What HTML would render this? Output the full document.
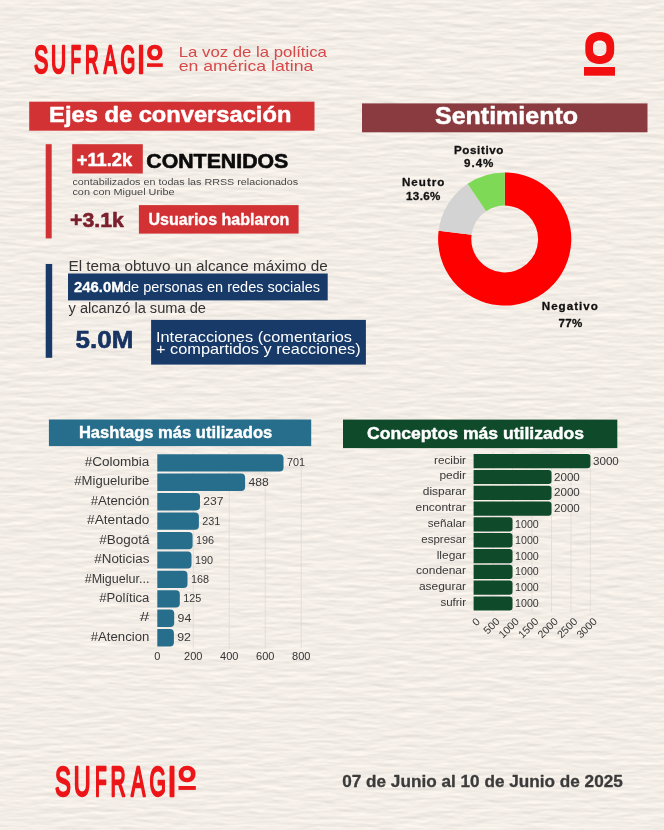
<!DOCTYPE html>
<html lang="es">
<head>
<meta charset="utf-8">
<title>Sufragio - Ejes de conversación</title>
<style>
html,body{margin:0;padding:0;background:#f3ede7;}
body{width:664px;height:830px;overflow:hidden;font-family:"Liberation Sans", sans-serif;}
#page{position:relative;width:664px;height:830px;background:#f3ede7;overflow:hidden;}
svg{position:absolute;left:0;top:0;display:block;will-change:transform;}
svg text{font-family:"Liberation Sans", sans-serif;}
</style>
</head>
<body>
<div id="page">
<svg width="664" height="830" viewBox="0 0 664 830">
<defs>
<filter id="paper" x="0" y="0" width="100%" height="100%" color-interpolation-filters="sRGB">
<feTurbulence type="fractalNoise" baseFrequency="0.035 0.19" numOctaves="3" seed="11" result="n"/>
<feDiffuseLighting in="n" lighting-color="#fff9f2" surfaceScale="0.24" diffuseConstant="1.1"><feDistantLight azimuth="90" elevation="60"/></feDiffuseLighting>
</filter>
</defs>
<rect width="664" height="830" fill="#efeae5" filter="url(#paper)"/>
<g class="logo"><text y="72.5" font-size="39.0" font-weight="400" fill="#ec1518" stroke="#ec1518" stroke-width="2.5" stroke-linejoin="round"><tspan x="34.05" textLength="14.30" lengthAdjust="spacingAndGlyphs">S</tspan><tspan x="51.09" textLength="15.13" lengthAdjust="spacingAndGlyphs">U</tspan><tspan x="70.59" textLength="10.49" lengthAdjust="spacingAndGlyphs">F</tspan><tspan x="84.95" textLength="13.68" lengthAdjust="spacingAndGlyphs">R</tspan><tspan x="103.65" textLength="12.90" lengthAdjust="spacingAndGlyphs">A</tspan><tspan x="120.56" textLength="14.77" lengthAdjust="spacingAndGlyphs">G</tspan><tspan x="137.13" textLength="7.65" lengthAdjust="spacingAndGlyphs">I</tspan><tspan x="147.62" y="58.95" font-size="19.2" stroke-width="2.7" textLength="14.56" lengthAdjust="spacingAndGlyphs">O</tspan></text>
<rect x="147.0" y="63.3" width="15.8" height="3.6" fill="#ec1518" />
</g>
<text x="178.7" y="56.8" font-size="15" font-weight="400" fill="#d6494a" text-anchor="start" textLength="148.2" lengthAdjust="spacingAndGlyphs" >La voz de la política</text>
<text x="178.7" y="71.3" font-size="15" font-weight="400" fill="#d6494a" text-anchor="start" textLength="134.7" lengthAdjust="spacingAndGlyphs" >en américa latina</text>
<g class="o-icon">
<path fill="#f10f0f" fill-rule="evenodd" d="M599.7 32 C608.5 32 614.2 37 614.2 45.5 L614.2 50.5 C614.2 59 608.5 64 599.7 64 C591 64 585.3 59 585.3 50.5 L585.3 45.5 C585.3 37 591 32 599.7 32 Z M599.7 40.5 C595.5 40.5 593 42.8 593 46.5 L593 50 C593 53.7 595.5 56 599.7 56 C603.9 56 606.4 53.7 606.4 50 L606.4 46.5 C606.4 42.8 603.9 40.5 599.7 40.5 Z"/>
<rect x="584.0" y="67.0" width="31.0" height="8.7" fill="#f10f0f" />
</g>
<rect x="29.2" y="101.7" width="285.3" height="29.0" fill="#d33235" />
<text x="49.1" y="122.0" font-size="22.5" font-weight="700" fill="#ffffff" text-anchor="start" textLength="242.3" lengthAdjust="spacingAndGlyphs"  stroke="#ffffff" stroke-width="0.5" stroke-linejoin="round">Ejes de conversación</text>
<rect x="362.0" y="103.4" width="285.5" height="28.9" fill="#8a3b3f" />
<text x="435.0" y="124.0" font-size="23" font-weight="700" fill="#ffffff" text-anchor="start" textLength="143.0" lengthAdjust="spacingAndGlyphs"  stroke="#ffffff" stroke-width="0.5" stroke-linejoin="round">Sentimiento</text>
<rect x="45.7" y="144.2" width="6.0" height="94.2" fill="#d33235" />
<rect x="72.2" y="144.2" width="70.6" height="29.3" fill="#d33235" />
<text x="76.7" y="165.6" font-size="19" font-weight="700" fill="#ffffff" text-anchor="start" textLength="55.5" lengthAdjust="spacingAndGlyphs"  stroke="#ffffff" stroke-width="0.5" stroke-linejoin="round">+11.2k</text>
<text x="146.3" y="167.5" font-size="20.5" font-weight="700" fill="#0b0b0b" text-anchor="start" textLength="142.0" lengthAdjust="spacingAndGlyphs"  stroke="#0b0b0b" stroke-width="0.6" stroke-linejoin="round">CONTENIDOS</text>
<text x="72.4" y="184.9" font-size="9.7" font-weight="400" fill="#484848" text-anchor="start" textLength="225.8" lengthAdjust="spacingAndGlyphs" >contabilizados en todas las RRSS relacionados</text>
<text x="72.4" y="195.2" font-size="9.7" font-weight="400" fill="#484848" text-anchor="start" textLength="102.2" lengthAdjust="spacingAndGlyphs" >con con Miguel Uribe</text>
<text x="70.0" y="226.8" font-size="21" font-weight="700" fill="#7b1f2c" text-anchor="start" textLength="53.8" lengthAdjust="spacingAndGlyphs"  stroke="#7b1f2c" stroke-width="0.6" stroke-linejoin="round">+3.1k</text>
<rect x="138.9" y="205.1" width="159.7" height="28.5" fill="#d33235" />
<text x="148.4" y="225.1" font-size="16.5" font-weight="700" fill="#ffffff" text-anchor="start" textLength="140.9" lengthAdjust="spacingAndGlyphs"  stroke="#ffffff" stroke-width="0.35" stroke-linejoin="round">Usuarios hablaron</text>
<rect x="45.7" y="264.0" width="6.5" height="93.8" fill="#183a69" />
<text x="68.5" y="270.5" font-size="14" font-weight="400" fill="#343434" text-anchor="start" textLength="259.2" lengthAdjust="spacingAndGlyphs" >El tema obtuvo un alcance máximo de</text>
<rect x="68.0" y="273.5" width="259.7" height="26.9" fill="#183a69" />
<text x="74.0" y="292.2" font-size="14" font-weight="700" fill="#ffffff" text-anchor="start" textLength="49.5" lengthAdjust="spacingAndGlyphs"  stroke="#ffffff" stroke-width="0.3" stroke-linejoin="round">246.0M</text>
<text x="123.0" y="292.2" font-size="14" font-weight="400" fill="#ffffff" text-anchor="start" textLength="197.0" lengthAdjust="spacingAndGlyphs" >de personas en redes sociales</text>
<text x="68.5" y="312.6" font-size="14" font-weight="400" fill="#343434" text-anchor="start" textLength="137.5" lengthAdjust="spacingAndGlyphs" >y alcanzó la suma de</text>
<text x="75.6" y="348.4" font-size="23" font-weight="700" fill="#173463" text-anchor="start" textLength="57.8" lengthAdjust="spacingAndGlyphs"  stroke="#173463" stroke-width="0.6" stroke-linejoin="round">5.0M</text>
<rect x="151.1" y="319.9" width="214.8" height="44.7" fill="#183a69" />
<text x="156.0" y="341.6" font-size="14.5" font-weight="400" fill="#ffffff" text-anchor="start" textLength="196.0" lengthAdjust="spacingAndGlyphs" >Interacciones (comentarios</text>
<text x="156.0" y="353.8" font-size="14.5" font-weight="400" fill="#ffffff" text-anchor="start" textLength="204.7" lengthAdjust="spacingAndGlyphs" >+ compartidos y reacciones)</text>
<g class="donut">
<path fill="#ff0000" d="M504.70 172.40 A66.6 66.6 0 1 1 438.63 230.65 L471.56 234.81 A33.4 33.4 0 1 0 504.70 205.60 Z"/>
<path fill="#d3d3d3" d="M438.63 230.65 A66.6 66.6 0 0 1 467.61 183.68 L486.10 211.26 A33.4 33.4 0 0 0 471.56 234.81 Z"/>
<path fill="#7ed957" d="M467.61 183.68 A66.6 66.6 0 0 1 504.70 172.40 L504.70 205.60 A33.4 33.4 0 0 0 486.10 211.26 Z"/>
</g>
<text x="454.0" y="153.9" font-size="11.6" font-weight="700" fill="#111111" text-anchor="start" textLength="49.4" lengthAdjust="spacing"  stroke="#111111" stroke-width="0.3" stroke-linejoin="round">Positivo</text>
<text x="464.0" y="167.1" font-size="11.6" font-weight="700" fill="#111111" text-anchor="start" textLength="29.4" lengthAdjust="spacing"  stroke="#111111" stroke-width="0.3" stroke-linejoin="round">9.4%</text>
<text x="402.0" y="186.4" font-size="11.6" font-weight="700" fill="#111111" text-anchor="start" textLength="42.4" lengthAdjust="spacing"  stroke="#111111" stroke-width="0.3" stroke-linejoin="round">Neutro</text>
<text x="406.0" y="200.3" font-size="11.6" font-weight="700" fill="#111111" text-anchor="start" textLength="34.4" lengthAdjust="spacing"  stroke="#111111" stroke-width="0.3" stroke-linejoin="round">13.6%</text>
<text x="541.8" y="310.2" font-size="11.6" font-weight="700" fill="#111111" text-anchor="start" textLength="56.0" lengthAdjust="spacing"  stroke="#111111" stroke-width="0.3" stroke-linejoin="round">Negativo</text>
<text x="558.4" y="327.1" font-size="11.6" font-weight="700" fill="#111111" text-anchor="start" textLength="23.8" lengthAdjust="spacing"  stroke="#111111" stroke-width="0.3" stroke-linejoin="round">77%</text>
<rect x="48.9" y="419.5" width="262.3" height="26.6" fill="#276d8c" />
<text x="78.9" y="438.2" font-size="16.3" font-weight="700" fill="#ffffff" text-anchor="start" textLength="193.4" lengthAdjust="spacingAndGlyphs"  stroke="#ffffff" stroke-width="0.4" stroke-linejoin="round">Hashtags más utilizados</text>
<line x1="193.3" y1="452.2" x2="193.3" y2="648.5" stroke="#dfd9d3" stroke-width="0.7"/>
<line x1="229.3" y1="452.2" x2="229.3" y2="648.5" stroke="#dfd9d3" stroke-width="0.7"/>
<line x1="265.3" y1="452.2" x2="265.3" y2="648.5" stroke="#dfd9d3" stroke-width="0.7"/>
<line x1="301.3" y1="452.2" x2="301.3" y2="648.5" stroke="#dfd9d3" stroke-width="0.7"/>
<path fill="#276d8c" d="M157.3 454.2 H279.5 Q283.5 454.2 283.5 458.2 V467.5 Q283.5 471.5 279.5 471.5 H157.3 Z"/>
<text x="149.4" y="465.9" font-size="12" font-weight="400" fill="#383838" text-anchor="end" textLength="64.7" lengthAdjust="spacingAndGlyphs" >#Colombia</text>
<text x="286.9" y="466.3" font-size="11.3" font-weight="400" fill="#383838" text-anchor="start" textLength="18.1" lengthAdjust="spacingAndGlyphs" >701</text>
<path fill="#276d8c" d="M157.3 473.6 H241.1 Q245.1 473.6 245.1 477.6 V486.9 Q245.1 490.9 241.1 490.9 H157.3 Z"/>
<text x="149.4" y="485.3" font-size="12" font-weight="400" fill="#383838" text-anchor="end" textLength="75.1" lengthAdjust="spacingAndGlyphs" >#Migueluribe</text>
<text x="248.5" y="485.7" font-size="11.3" font-weight="400" fill="#383838" text-anchor="start" textLength="20.3" lengthAdjust="spacingAndGlyphs" >488</text>
<path fill="#276d8c" d="M157.3 493.1 H196.0 Q200.0 493.1 200.0 497.1 V506.4 Q200.0 510.4 196.0 510.4 H157.3 Z"/>
<text x="149.4" y="504.8" font-size="12" font-weight="400" fill="#383838" text-anchor="end" textLength="58.7" lengthAdjust="spacingAndGlyphs" >#Atención</text>
<text x="203.3" y="505.2" font-size="11.3" font-weight="400" fill="#383838" text-anchor="start" textLength="20.3" lengthAdjust="spacingAndGlyphs" >237</text>
<path fill="#276d8c" d="M157.3 512.5 H194.9 Q198.9 512.5 198.9 516.5 V525.8 Q198.9 529.8 194.9 529.8 H157.3 Z"/>
<text x="149.4" y="524.2" font-size="12" font-weight="400" fill="#383838" text-anchor="end" textLength="62.3" lengthAdjust="spacingAndGlyphs" >#Atentado</text>
<text x="202.3" y="524.6" font-size="11.3" font-weight="400" fill="#383838" text-anchor="start" textLength="18.1" lengthAdjust="spacingAndGlyphs" >231</text>
<path fill="#276d8c" d="M157.3 531.9 H188.6 Q192.6 531.9 192.6 535.9 V545.2 Q192.6 549.2 188.6 549.2 H157.3 Z"/>
<text x="149.4" y="543.6" font-size="12" font-weight="400" fill="#383838" text-anchor="end" textLength="50.2" lengthAdjust="spacingAndGlyphs" >#Bogotá</text>
<text x="196.0" y="544.0" font-size="11.3" font-weight="400" fill="#383838" text-anchor="start" textLength="18.1" lengthAdjust="spacingAndGlyphs" >196</text>
<path fill="#276d8c" d="M157.3 551.4 H187.5 Q191.5 551.4 191.5 555.4 V564.6 Q191.5 568.6 187.5 568.6 H157.3 Z"/>
<text x="149.4" y="563.1" font-size="12" font-weight="400" fill="#383838" text-anchor="end" textLength="55.1" lengthAdjust="spacingAndGlyphs" >#Noticias</text>
<text x="194.9" y="563.5" font-size="11.3" font-weight="400" fill="#383838" text-anchor="start" textLength="18.1" lengthAdjust="spacingAndGlyphs" >190</text>
<path fill="#276d8c" d="M157.3 570.8 H183.5 Q187.5 570.8 187.5 574.8 V584.1 Q187.5 588.1 183.5 588.1 H157.3 Z"/>
<text x="149.4" y="582.5" font-size="12" font-weight="400" fill="#383838" text-anchor="end" textLength="64.7" lengthAdjust="spacingAndGlyphs" >#Miguelur...</text>
<text x="190.9" y="582.9" font-size="11.3" font-weight="400" fill="#383838" text-anchor="start" textLength="18.1" lengthAdjust="spacingAndGlyphs" >168</text>
<path fill="#276d8c" d="M157.3 590.2 H175.8 Q179.8 590.2 179.8 594.2 V603.5 Q179.8 607.5 175.8 607.5 H157.3 Z"/>
<text x="149.4" y="601.9" font-size="12" font-weight="400" fill="#383838" text-anchor="end" textLength="50.2" lengthAdjust="spacingAndGlyphs" >#Política</text>
<text x="183.2" y="602.3" font-size="11.3" font-weight="400" fill="#383838" text-anchor="start" textLength="18.1" lengthAdjust="spacingAndGlyphs" >125</text>
<path fill="#276d8c" d="M157.3 609.6 H170.2 Q174.2 609.6 174.2 613.6 V622.9 Q174.2 626.9 170.2 626.9 H157.3 Z"/>
<text x="149.4" y="621.3" font-size="12" font-weight="400" fill="#383838" text-anchor="end" textLength="10.0" lengthAdjust="spacingAndGlyphs" >#</text>
<text x="177.6" y="621.7" font-size="11.3" font-weight="400" fill="#383838" text-anchor="start" textLength="13.8" lengthAdjust="spacingAndGlyphs" >94</text>
<path fill="#276d8c" d="M157.3 629.1 H169.9 Q173.9 629.1 173.9 633.1 V642.4 Q173.9 646.4 169.9 646.4 H157.3 Z"/>
<text x="149.4" y="640.8" font-size="12" font-weight="400" fill="#383838" text-anchor="end" textLength="58.7" lengthAdjust="spacingAndGlyphs" >#Atencion</text>
<text x="177.2" y="641.2" font-size="11.3" font-weight="400" fill="#383838" text-anchor="start" textLength="13.8" lengthAdjust="spacingAndGlyphs" >92</text>
<text x="157.3" y="660.4" font-size="11" font-weight="400" fill="#333333" text-anchor="middle" >0</text>
<text x="193.3" y="660.4" font-size="11" font-weight="400" fill="#333333" text-anchor="middle" >200</text>
<text x="229.3" y="660.4" font-size="11" font-weight="400" fill="#333333" text-anchor="middle" >400</text>
<text x="265.3" y="660.4" font-size="11" font-weight="400" fill="#333333" text-anchor="middle" >600</text>
<text x="301.3" y="660.4" font-size="11" font-weight="400" fill="#333333" text-anchor="middle" >800</text>
<rect x="343.0" y="419.6" width="274.3" height="28.5" fill="#0f4a2b" />
<text x="367.1" y="439.4" font-size="17" font-weight="700" fill="#ffffff" text-anchor="start" textLength="217.0" lengthAdjust="spacingAndGlyphs"  stroke="#ffffff" stroke-width="0.45" stroke-linejoin="round">Conceptos más utilizados</text>
<line x1="493.1" y1="452.1" x2="493.1" y2="612.2" stroke="#dfd9d3" stroke-width="0.7"/>
<line x1="512.5" y1="452.1" x2="512.5" y2="612.2" stroke="#dfd9d3" stroke-width="0.7"/>
<line x1="532.0" y1="452.1" x2="532.0" y2="612.2" stroke="#dfd9d3" stroke-width="0.7"/>
<line x1="551.5" y1="452.1" x2="551.5" y2="612.2" stroke="#dfd9d3" stroke-width="0.7"/>
<line x1="570.9" y1="452.1" x2="570.9" y2="612.2" stroke="#dfd9d3" stroke-width="0.7"/>
<line x1="590.4" y1="452.1" x2="590.4" y2="612.2" stroke="#dfd9d3" stroke-width="0.7"/>
<path fill="#0f4a2b" d="M473.6 454.1 H587.4 Q590.4 454.1 590.4 457.1 V465.3 Q590.4 468.3 587.4 468.3 H473.6 Z"/>
<text x="466.0" y="463.6" font-size="11.5" font-weight="400" fill="#383838" text-anchor="end" textLength="32.0" lengthAdjust="spacingAndGlyphs" >recibir</text>
<text x="593.0" y="464.7" font-size="11.3" font-weight="400" fill="#383838" text-anchor="start" textLength="25.8" lengthAdjust="spacingAndGlyphs" >3000</text>
<path fill="#0f4a2b" d="M473.6 469.9 H548.5 Q551.5 469.9 551.5 472.9 V481.1 Q551.5 484.1 548.5 484.1 H473.6 Z"/>
<text x="466.0" y="479.4" font-size="11.5" font-weight="400" fill="#383838" text-anchor="end" textLength="26.6" lengthAdjust="spacingAndGlyphs" >pedir</text>
<text x="554.0" y="480.5" font-size="11.3" font-weight="400" fill="#383838" text-anchor="start" textLength="25.8" lengthAdjust="spacingAndGlyphs" >2000</text>
<path fill="#0f4a2b" d="M473.6 485.7 H548.5 Q551.5 485.7 551.5 488.7 V496.9 Q551.5 499.9 548.5 499.9 H473.6 Z"/>
<text x="466.0" y="495.2" font-size="11.5" font-weight="400" fill="#383838" text-anchor="end" textLength="43.2" lengthAdjust="spacingAndGlyphs" >disparar</text>
<text x="554.0" y="496.3" font-size="11.3" font-weight="400" fill="#383838" text-anchor="start" textLength="25.8" lengthAdjust="spacingAndGlyphs" >2000</text>
<path fill="#0f4a2b" d="M473.6 501.5 H548.5 Q551.5 501.5 551.5 504.5 V512.7 Q551.5 515.7 548.5 515.7 H473.6 Z"/>
<text x="466.0" y="511.0" font-size="11.5" font-weight="400" fill="#383838" text-anchor="end" textLength="50.4" lengthAdjust="spacingAndGlyphs" >encontrar</text>
<text x="554.0" y="512.1" font-size="11.3" font-weight="400" fill="#383838" text-anchor="start" textLength="25.8" lengthAdjust="spacingAndGlyphs" >2000</text>
<path fill="#0f4a2b" d="M473.6 517.3 H509.5 Q512.5 517.3 512.5 520.3 V528.5 Q512.5 531.5 509.5 531.5 H473.6 Z"/>
<text x="466.0" y="526.8" font-size="11.5" font-weight="400" fill="#383838" text-anchor="end" textLength="38.3" lengthAdjust="spacingAndGlyphs" >señalar</text>
<text x="515.1" y="527.9" font-size="11.3" font-weight="400" fill="#383838" text-anchor="start" textLength="23.7" lengthAdjust="spacingAndGlyphs" >1000</text>
<path fill="#0f4a2b" d="M473.6 533.1 H509.5 Q512.5 533.1 512.5 536.1 V544.4 Q512.5 547.4 509.5 547.4 H473.6 Z"/>
<text x="466.0" y="542.6" font-size="11.5" font-weight="400" fill="#383838" text-anchor="end" textLength="44.7" lengthAdjust="spacingAndGlyphs" >espresar</text>
<text x="515.1" y="543.8" font-size="11.3" font-weight="400" fill="#383838" text-anchor="start" textLength="23.7" lengthAdjust="spacingAndGlyphs" >1000</text>
<path fill="#0f4a2b" d="M473.6 549.0 H509.5 Q512.5 549.0 512.5 552.0 V560.2 Q512.5 563.2 509.5 563.2 H473.6 Z"/>
<text x="466.0" y="558.5" font-size="11.5" font-weight="400" fill="#383838" text-anchor="end" textLength="29.3" lengthAdjust="spacingAndGlyphs" >llegar</text>
<text x="515.1" y="559.6" font-size="11.3" font-weight="400" fill="#383838" text-anchor="start" textLength="23.7" lengthAdjust="spacingAndGlyphs" >1000</text>
<path fill="#0f4a2b" d="M473.6 564.8 H509.5 Q512.5 564.8 512.5 567.8 V576.0 Q512.5 579.0 509.5 579.0 H473.6 Z"/>
<text x="466.0" y="574.3" font-size="11.5" font-weight="400" fill="#383838" text-anchor="end" textLength="49.9" lengthAdjust="spacingAndGlyphs" >condenar</text>
<text x="515.1" y="575.4" font-size="11.3" font-weight="400" fill="#383838" text-anchor="start" textLength="23.7" lengthAdjust="spacingAndGlyphs" >1000</text>
<path fill="#0f4a2b" d="M473.6 580.6 H509.5 Q512.5 580.6 512.5 583.6 V591.8 Q512.5 594.8 509.5 594.8 H473.6 Z"/>
<text x="466.0" y="590.1" font-size="11.5" font-weight="400" fill="#383838" text-anchor="end" textLength="47.1" lengthAdjust="spacingAndGlyphs" >asegurar</text>
<text x="515.1" y="591.2" font-size="11.3" font-weight="400" fill="#383838" text-anchor="start" textLength="23.7" lengthAdjust="spacingAndGlyphs" >1000</text>
<path fill="#0f4a2b" d="M473.6 596.4 H509.5 Q512.5 596.4 512.5 599.4 V607.6 Q512.5 610.6 509.5 610.6 H473.6 Z"/>
<text x="466.0" y="605.9" font-size="11.5" font-weight="400" fill="#383838" text-anchor="end" textLength="25.6" lengthAdjust="spacingAndGlyphs" >sufrir</text>
<text x="515.1" y="607.0" font-size="11.3" font-weight="400" fill="#383838" text-anchor="start" textLength="23.7" lengthAdjust="spacingAndGlyphs" >1000</text>
<text transform="translate(480.8 622.2) rotate(-45)" font-size="10.6" fill="#383838" text-anchor="end">0</text>
<text transform="translate(500.3 622.2) rotate(-45)" font-size="10.6" fill="#383838" text-anchor="end">500</text>
<text transform="translate(519.7 622.2) rotate(-45)" font-size="10.6" fill="#383838" text-anchor="end">1000</text>
<text transform="translate(539.2 622.2) rotate(-45)" font-size="10.6" fill="#383838" text-anchor="end">1500</text>
<text transform="translate(558.7 622.2) rotate(-45)" font-size="10.6" fill="#383838" text-anchor="end">2000</text>
<text transform="translate(578.1 622.2) rotate(-45)" font-size="10.6" fill="#383838" text-anchor="end">2500</text>
<text transform="translate(597.6 622.2) rotate(-45)" font-size="10.6" fill="#383838" text-anchor="end">3000</text>
<g class="logo"><text y="796.1" font-size="42.6" font-weight="400" fill="#ec1518" stroke="#ec1518" stroke-width="2.5" stroke-linejoin="round"><tspan x="55.04" textLength="15.89" lengthAdjust="spacingAndGlyphs">S</tspan><tspan x="73.63" textLength="16.82" lengthAdjust="spacingAndGlyphs">U</tspan><tspan x="94.93" textLength="11.75" lengthAdjust="spacingAndGlyphs">F</tspan><tspan x="110.62" textLength="15.21" lengthAdjust="spacingAndGlyphs">R</tspan><tspan x="131.08" textLength="14.32" lengthAdjust="spacingAndGlyphs">A</tspan><tspan x="149.54" textLength="16.40" lengthAdjust="spacingAndGlyphs">G</tspan><tspan x="167.42" textLength="9.03" lengthAdjust="spacingAndGlyphs">I</tspan><tspan x="179.08" y="781.39" font-size="21.0" stroke-width="2.7" textLength="16.18" lengthAdjust="spacingAndGlyphs">O</tspan></text>
<rect x="178.5" y="786.0" width="17.3" height="3.9" fill="#ec1518" />
</g>
<text x="342.2" y="786.7" font-size="17" font-weight="700" fill="#3b3b3b" text-anchor="start" textLength="280.6" lengthAdjust="spacingAndGlyphs"  stroke="#3b3b3b" stroke-width="0.3" stroke-linejoin="round">07 de Junio al 10 de Junio de 2025</text>
</svg>
</div>
</body>
</html>
